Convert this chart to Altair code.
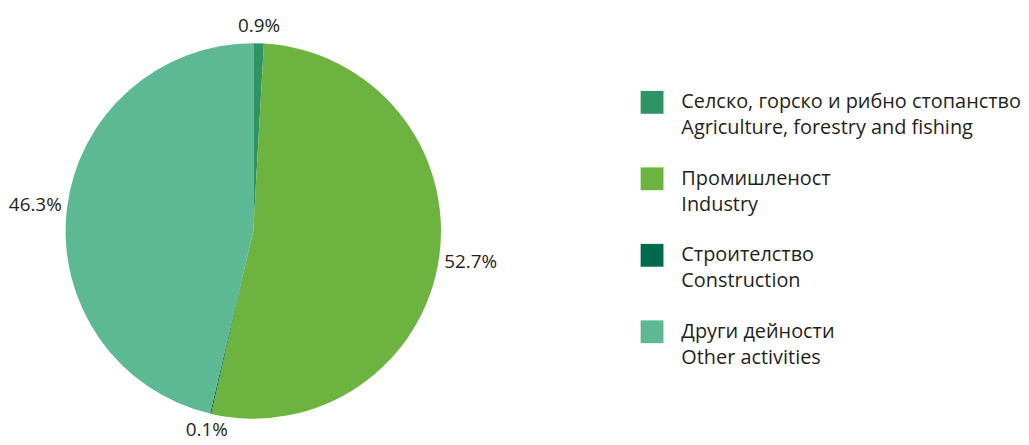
import altair as alt
import pandas as pd

categories_bg = ["Селско, горско и рибно стопанство", "Промишленост", "Строителство", "Други дейности"]
categories_en = ["Agriculture, forestry and fishing", "Industry", "Construction", "Other activities"]
shares = [0.9, 52.7, 0.1, 46.3]
colors = ["#2E9466", "#6DB33F", "#006A4E", "#5DB894"]

df = pd.DataFrame({
    "bg": categories_bg,
    "en": categories_en,
    "share": shares,
    "order": list(range(len(shares))),
})
df["label"] = df["share"].map(lambda v: f"{v:.1f}%")

FONT = "Open Sans"
CX, CY, R = 246, 223, 189

color = alt.Color("bg:N", scale=alt.Scale(domain=categories_bg, range=colors), legend=None)

base = alt.Chart(df)

pie = base.mark_arc(outerRadius=R).encode(
    theta=alt.Theta("share:Q", stack=True),
    order=alt.Order("order:Q"),
    color=color,
    x=alt.value(CX),
    y=alt.value(CY),
)

def label_layer(cond, rad):
    return base.transform_stack(
        stack="share", groupby=[], sort=[alt.SortField("order")], as_=["t0", "t1"]
    ).transform_calculate(
        mid="(datum.t0 + datum.t1) / 2"
    ).transform_filter(cond).mark_text(
        font=FONT, fontSize=19, color="#231F20", baseline="middle", align="center"
    ).encode(
        theta=alt.Theta("mid:Q", scale=alt.Scale(domain=[0, 100], range=[0, 6.283185307179586]), stack=None),
        radius=alt.value(rad),
        text="label:N",
        x=alt.value(CX),
        y=alt.value(CY),
    )

labels_small = label_layer("datum.share < 5", R + 17)
labels_big = label_layer("datum.share >= 5", R + 32)

yscale = alt.Scale(type="point", padding=0, domain=categories_bg, range=[93.5, 324.5])

swatch = base.mark_square(size=529, opacity=1).encode(
    x=alt.value(647.5),
    y=alt.Y("bg:N", scale=yscale, axis=None),
    color=color,
)

line1 = base.mark_text(font=FONT, fontSize=20, color="#231F20", align="left", baseline="middle").encode(
    x=alt.value(677),
    y=alt.Y("bg:N", scale=yscale, axis=None),
    text="bg:N",
)

line2 = base.mark_text(font=FONT, fontSize=20, color="#231F20", align="left", baseline="middle", dy=26).encode(
    x=alt.value(677),
    y=alt.Y("bg:N", scale=yscale, axis=None),
    text="en:N",
)

chart = alt.layer(pie, labels_small, labels_big, swatch, line1, line2).resolve_scale(
    theta="independent"
).properties(
    width=1013, height=429, padding=0
).configure_view(stroke=None)

chart.save("out.html", embed_options={"renderer": "svg", "actions": False})
